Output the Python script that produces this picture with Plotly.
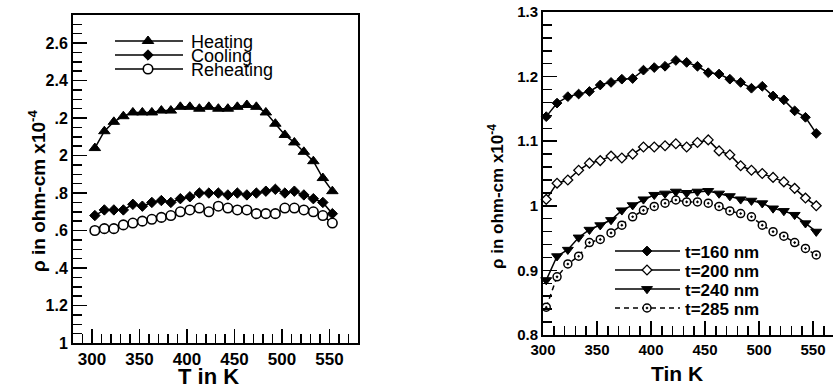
import plotly.graph_objects as go

W, H = 833, 387
FONT = "Liberation Sans, Arial, sans-serif"

# ---------------- data ----------------
temperature = [303, 313, 323, 333, 343, 353, 363, 373, 383, 393, 403, 413, 423,
               433, 443, 453, 463, 473, 483, 493, 503, 513, 523, 533, 543, 553]

heating = [2.04, 2.13, 2.18, 2.21, 2.23, 2.23, 2.23, 2.24, 2.24, 2.26, 2.26, 2.25, 2.26,
           2.25, 2.25, 2.26, 2.27, 2.26, 2.23, 2.17, 2.11, 2.07, 2.02, 1.97, 1.88, 1.81]
cooling = [1.68, 1.71, 1.71, 1.71, 1.74, 1.73, 1.75, 1.76, 1.75, 1.77, 1.78, 1.80, 1.80,
           1.80, 1.79, 1.80, 1.79, 1.80, 1.81, 1.82, 1.80, 1.81, 1.79, 1.77, 1.75, 1.69]
reheating = [1.60, 1.61, 1.61, 1.63, 1.64, 1.65, 1.66, 1.67, 1.68, 1.70, 1.71, 1.72, 1.70,
             1.73, 1.72, 1.71, 1.71, 1.69, 1.69, 1.69, 1.72, 1.72, 1.71, 1.70, 1.68, 1.64]

t160 = [1.138, 1.159, 1.169, 1.173, 1.177, 1.187, 1.191, 1.196, 1.197, 1.210, 1.214, 1.216, 1.225,
        1.222, 1.216, 1.206, 1.204, 1.196, 1.191, 1.182, 1.185, 1.170, 1.164, 1.147, 1.137, 1.112]
t200 = [1.010, 1.035, 1.040, 1.055, 1.066, 1.070, 1.077, 1.074, 1.080, 1.091, 1.091, 1.093, 1.096,
        1.091, 1.098, 1.102, 1.085, 1.079, 1.062, 1.055, 1.050, 1.044, 1.037, 1.027, 1.012, 1.000]
t240 = [0.885, 0.922, 0.932, 0.951, 0.963, 0.970, 0.978, 0.993, 1.001, 1.010, 1.017, 1.019, 1.022,
        1.020, 1.022, 1.023, 1.019, 1.015, 1.010, 1.008, 1.004, 0.996, 0.992, 0.986, 0.973, 0.960]
t285 = [0.843, 0.890, 0.910, 0.922, 0.943, 0.948, 0.958, 0.970, 0.983, 0.993, 0.999, 1.004, 1.009,
        1.006, 1.006, 1.004, 0.999, 0.992, 0.988, 0.983, 0.970, 0.960, 0.953, 0.943, 0.934, 0.924]

left_names = ["Heating", "Cooling", "Reheating"]
right_names = ["t=160 nm", "t=200 nm", "t=240 nm", "t=285 nm"]

left_ytick_vals = [1, 1.2, 1.4, 1.6, 1.8, 2, 2.2, 2.4, 2.6]
left_ytick_text = ["1", "1.2", ".4", ".6", ".8", "2", ".2", "2.4", "2.6"]
x_tick_vals = [300, 350, 400, 450, 500, 550]
right_ytick_vals = [0.8, 0.9, 1.0, 1.1, 1.2, 1.3]
right_ytick_text = ["0.8", "0.9", "1", "1.1", "1.2", "1.3"]

y_title = "ρ in ohm-cm x10<sup>-4</sup>"

# ---------------- styles ----------------
BLK = "black"
LW = 1.5
DASH = "5px,4px"

left_styles = [
    dict(symbol="triangle-up", size=10, color=BLK, line=dict(color=BLK, width=1)),
    dict(symbol="diamond", size=8, color=BLK, line=dict(color=BLK, width=1)),
    dict(symbol="circle", size=9.5, color="white", line=dict(color=BLK, width=1.6)),
]
right_styles = [
    dict(symbol="diamond", size=7.5, color=BLK, line=dict(color=BLK, width=1)),
    dict(symbol="diamond", size=7.5, color="white", line=dict(color=BLK, width=1.3)),
    dict(symbol="triangle-down", size=9.5, color=BLK, line=dict(color=BLK, width=1)),
    dict(symbol="circle-dot", size=8, color="white", line=dict(color=BLK, width=1.5)),
]
right_dash = ["solid", "solid", "solid", DASH]

fig = go.Figure()

for vals, st, nm in zip([heating, cooling, reheating], left_styles, left_names):
    fig.add_trace(go.Scatter(x=temperature, y=vals, name=nm, mode="lines+markers",
                             line=dict(color=BLK, width=LW), marker=st,
                             xaxis="x", yaxis="y", showlegend=False, cliponaxis=False))

for vals, st, nm, dsh in zip([t160, t200, t240, t285], right_styles, right_names, right_dash):
    fig.add_trace(go.Scatter(x=temperature, y=vals, name=nm, mode="lines+markers",
                             line=dict(color=BLK, width=LW, dash=dsh), marker=st,
                             xaxis="x2", yaxis="y2", showlegend=False, cliponaxis=False))

# ---------------- manual legends (overlay pixel axes) ----------------
def leg_entry(x0, x1, xm, y, st, dash="solid"):
    fig.add_trace(go.Scatter(x=[x0, x1], y=[y, y], mode="lines",
                             line=dict(color=BLK, width=LW, dash=dash),
                             xaxis="x3", yaxis="y3", showlegend=False, hoverinfo="skip"))
    fig.add_trace(go.Scatter(x=[xm], y=[y], mode="markers", marker=st,
                             xaxis="x3", yaxis="y3", showlegend=False, hoverinfo="skip",
                             cliponaxis=False))

annotations = []
left_leg_y = [41, 55, 69]
for y, st, nm in zip(left_leg_y, left_styles, left_names):
    leg_entry(115, 183, 148, y, st)
    annotations.append(dict(x=189, y=y + 1, xref="x3", yref="y3", text=nm, showarrow=False,
                            xanchor="left", yanchor="middle",
                            font=dict(family=FONT, size=18, color=BLK)))

right_leg_y = [251, 270, 289, 308]
for y, st, nm, dsh in zip(right_leg_y, right_styles, right_names, right_dash):
    leg_entry(615, 680, 647, y, st, dsh)
    annotations.append(dict(x=683, y=y + 1, xref="x3", yref="y3", text=nm, showarrow=False,
                            xanchor="left", yanchor="middle",
                            font=dict(family=FONT, size=17, color=BLK, weight="bold")))

# axis titles
annotations += [
    dict(x=208, y=376, xref="x3", yref="y3", text="T in K", showarrow=False,
         xanchor="center", yanchor="middle", font=dict(family=FONT, size=22, color=BLK, weight="bold")),
    dict(x=677, y=373, xref="x3", yref="y3", text="Tin K", showarrow=False,
         xanchor="center", yanchor="middle", font=dict(family=FONT, size=21, color=BLK, weight="bold")),
    dict(x=37, y=191, xref="x3", yref="y3", text=y_title, showarrow=False, textangle=-90,
         xanchor="center", yanchor="middle", font=dict(family=FONT, size=19, color=BLK, weight="bold")),
    dict(x=496, y=197, xref="x3", yref="y3", text=y_title, showarrow=False, textangle=-90,
         xanchor="center", yanchor="middle", font=dict(family=FONT, size=17, color=BLK, weight="bold")),
]

# ---------------- axes ----------------
def xax(domain, rng, fsize, mirror=True):
    return dict(domain=domain, range=rng, tickmode="array", tickvals=x_tick_vals,
                ticks="inside", ticklen=14, tickwidth=1.5, tickcolor=BLK,
                minor=dict(ticks="inside", ticklen=9, tickwidth=1.5, tickcolor=BLK, dtick=10, tick0=300),
                showline=True, linewidth=2, linecolor=BLK, mirror=mirror,
                showgrid=False, zeroline=False, automargin=False,
                tickfont=dict(family=FONT, size=fsize, color=BLK, weight="bold"))

def yax(domain, rng, vals, text, mdt, fsize, anchor, mirror=True):
    return dict(domain=domain, range=rng, tickmode="array", tickvals=vals, ticktext=text,
                ticks="inside", ticklen=14, tickwidth=1.5, tickcolor=BLK,
                minor=dict(ticks="inside", ticklen=9, tickwidth=1.5, tickcolor=BLK, dtick=mdt, tick0=rng[0]),
                showline=True, linewidth=2, linecolor=BLK, mirror=mirror,
                showgrid=False, zeroline=False, anchor=anchor, automargin=False,
                tickfont=dict(family=FONT, size=fsize, color=BLK, weight="bold"))

fig.update_layout(
    width=W, height=H,
    margin=dict(l=0, r=0, t=0, b=0, pad=0, autoexpand=False),
    paper_bgcolor="white", plot_bgcolor="rgba(0,0,0,0)",
    showlegend=False,
    xaxis=dict(xax([73 / W, 358 / W], [280, 580], 17), anchor="y"),
    yaxis=yax([1 - 343 / H, 1 - 15 / H], [1, 2.75], left_ytick_vals, left_ytick_text, 0.05, 16, "x"),
    xaxis2=dict(xax([543 / W, 1.0], [300, 568.5], 15), anchor="y2"),
    yaxis2=yax([1 - 335 / H, 1 - 12 / H], [0.8, 1.3], right_ytick_vals, right_ytick_text, 0.02, 15, "x2",
               mirror=False),
    xaxis3=dict(domain=[0, 1], range=[0, W], visible=False, anchor="y3", fixedrange=True, automargin=False),
    yaxis3=dict(domain=[0, 1], range=[H, 0], visible=False, anchor="x3", fixedrange=True, automargin=False),
    annotations=annotations,
)

fig.write_html(
    "out.html",
    config={"displayModeBar": False, "staticPlot": True},
    post_script="document.body.style.margin='0';document.body.style.padding='0';"
                "document.body.style.overflow='hidden';",
)
